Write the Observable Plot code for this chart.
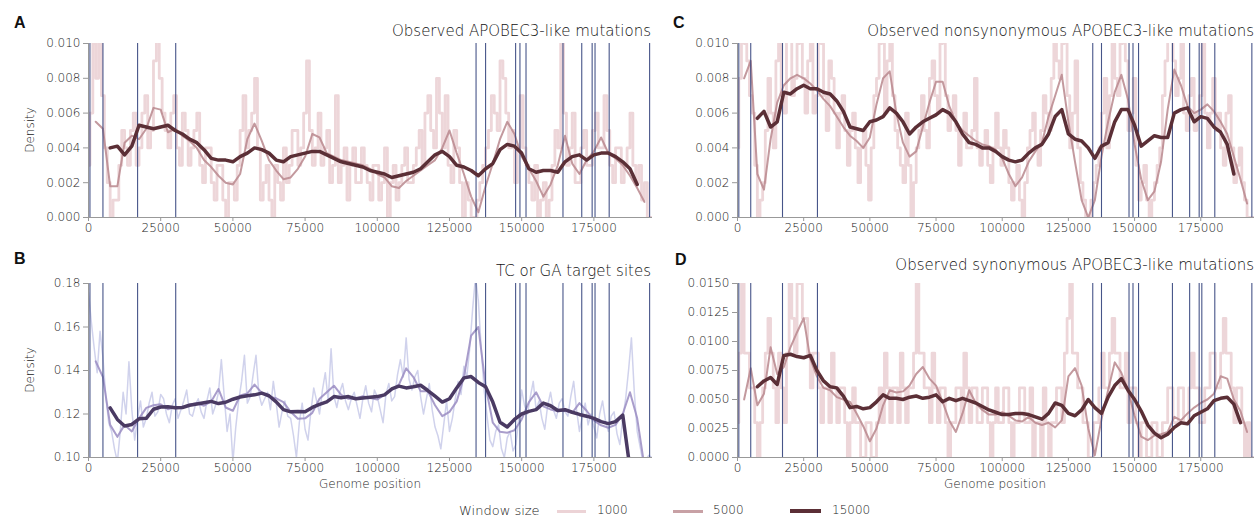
<!DOCTYPE html>
<html><head><meta charset="utf-8">
<script src="https://cdn.jsdelivr.net/npm/d3@7"></script>
<script src="https://cdn.jsdelivr.net/npm/@observablehq/plot@0.6"></script>
<style>
body{margin:0;background:#fff;}
#root{position:relative;width:1254px;height:516px;overflow:hidden;font-family:"DejaVu Sans",sans-serif;color:#222;background:#fff;}
.abs{position:absolute;white-space:nowrap;line-height:1;}
.letter{font-family:"Liberation Sans",Arial,sans-serif;font-weight:bold;font-size:16px;color:#111;}
.title{font-size:15px;font-weight:200;color:#111;}
.lab{font-size:12px;font-weight:200;color:#222;}
.sw{position:absolute;}
</style></head><body><div id="root"></div>
<script>
// ---------------- data ----------------
const GENOME_END = 195300;
const X_TICKS = [0, 25000, 50000, 75000, 100000, 125000, 150000, 175000];
const VLINES = [500, 5000, 17000, 30200, 134200, 137500, 147900, 149400, 151500, 164300, 170800, 174400, 175400, 180300, 194300];

// window 1000: positions 0, 1000, 2000, ...
const A_1000 = [
0.003,0.006,0.010,0.008,0.012,0.007,0.004,0.002,0.000,0.001,0.001,0.003,0.005,0.004,0.003,0.005,0.006,0.003,0.004,0.006,
0.007,0.004,0.005,0.009,0.011,0.008,0.006,0.005,0.004,0.006,0.007,0.004,0.003,0.006,0.005,0.003,0.004,0.005,0.006,0.003,
0.002,0.004,0.004,0.002,0.001,0.003,0.003,0.001,0.000,0.002,0.002,0.001,0.003,0.005,0.007,0.004,0.005,0.006,0.008,0.004,
0.001,0.002,0.003,0.001,0.000,0.003,0.002,0.001,0.004,0.002,0.003,0.005,0.005,0.003,0.004,0.006,0.009,0.005,0.003,0.004,
0.006,0.003,0.004,0.005,0.002,0.003,0.007,0.002,0.003,0.004,0.001,0.003,0.004,0.002,0.002,0.004,0.003,0.002,0.001,0.003,
0.003,0.001,0.002,0.004,0.000,0.002,0.003,0.001,0.002,0.003,0.004,0.002,0.002,0.003,0.004,0.005,0.003,0.006,0.007,0.005,
0.004,0.008,0.006,0.004,0.007,0.003,0.002,0.005,0.004,0.002,0.000,0.002,0.001,0.000,0.000,0.001,0.002,0.003,0.004,0.005,
0.007,0.006,0.005,0.009,0.008,0.006,0.004,0.005,0.002,0.004,0.007,0.004,0.003,0.002,0.001,0.003,0.000,0.001,0.002,0.000,
0.001,0.003,0.005,0.004,0.010,0.006,0.003,0.004,0.006,0.002,0.002,0.004,0.005,0.003,0.003,0.005,0.006,0.004,0.004,0.007,
0.005,0.003,0.002,0.004,0.004,0.002,0.003,0.004,0.006,0.003,0.002,0.003,0.001,0.002,0.000,0.000];
const B_1000 = [
0.176,0.162,0.150,0.139,0.158,0.146,0.128,0.116,0.112,0.104,0.098,0.112,0.130,0.120,0.144,0.122,0.108,0.118,0.126,0.114,
0.118,0.125,0.130,0.119,0.121,0.129,0.127,0.120,0.116,0.124,0.127,0.118,0.122,0.126,0.131,0.120,0.119,0.124,0.127,0.121,
0.118,0.126,0.132,0.120,0.124,0.130,0.145,0.128,0.112,0.120,0.098,0.114,0.126,0.135,0.147,0.125,0.128,0.138,0.147,0.129,
0.124,0.127,0.130,0.122,0.135,0.125,0.114,0.121,0.126,0.119,0.118,0.110,0.100,0.116,0.125,0.113,0.108,0.121,0.132,0.126,
0.120,0.131,0.139,0.126,0.150,0.128,0.123,0.130,0.134,0.126,0.122,0.127,0.130,0.124,0.118,0.127,0.133,0.125,0.121,0.131,
0.128,0.122,0.116,0.129,0.134,0.126,0.128,0.138,0.145,0.137,0.155,0.136,0.131,0.137,0.140,0.128,0.120,0.127,0.134,0.122,
0.114,0.110,0.104,0.115,0.126,0.112,0.118,0.127,0.135,0.129,0.142,0.137,0.150,0.168,0.183,0.172,0.150,0.131,0.119,0.108,
0.105,0.112,0.115,0.104,0.100,0.109,0.112,0.103,0.106,0.118,0.131,0.124,0.120,0.128,0.135,0.122,0.126,0.118,0.113,0.124,
0.130,0.122,0.118,0.125,0.127,0.121,0.119,0.128,0.135,0.122,0.112,0.119,0.125,0.115,0.120,0.114,0.109,0.120,0.126,0.117,
0.112,0.119,0.121,0.111,0.106,0.118,0.127,0.140,0.155,0.130,0.112,0.105,0.098,0.099,0.101,0.100];
const C_1000 = [
0.004,0.008,0.012,0.010,0.009,0.007,0.006,0.003,0.000,0.001,0.002,0.005,0.008,0.006,0.004,0.009,0.010,0.007,0.006,0.011,
0.012,0.007,0.008,0.010,0.011,0.008,0.006,0.009,0.012,0.006,0.007,0.011,0.010,0.007,0.005,0.009,0.008,0.006,0.004,0.006,
0.007,0.005,0.003,0.005,0.006,0.004,0.002,0.004,0.005,0.003,0.001,0.004,0.007,0.008,0.010,0.012,0.006,0.009,0.012,0.007,
0.005,0.004,0.003,0.002,0.006,0.003,0.000,0.002,0.004,0.005,0.007,0.005,0.004,0.008,0.009,0.007,0.006,0.010,0.011,0.007,
0.005,0.006,0.007,0.005,0.003,0.005,0.006,0.004,0.004,0.005,0.008,0.004,0.003,0.004,0.005,0.003,0.002,0.004,0.006,0.004,
0.003,0.005,0.004,0.002,0.001,0.002,0.003,0.001,0.000,0.002,0.004,0.005,0.006,0.004,0.003,0.005,0.007,0.006,0.005,0.008,
0.011,0.009,0.008,0.010,0.012,0.007,0.004,0.006,0.009,0.004,0.002,0.001,0.000,0.000,0.001,0.002,0.003,0.004,0.006,0.008,
0.004,0.007,0.010,0.008,0.007,0.010,0.012,0.009,0.005,0.006,0.008,0.003,0.001,0.002,0.003,0.001,0.000,0.001,0.002,0.003,
0.004,0.007,0.009,0.011,0.012,0.009,0.007,0.008,0.010,0.006,0.005,0.007,0.008,0.005,0.006,0.007,0.010,0.006,0.004,0.006,
0.008,0.005,0.006,0.004,0.003,0.006,0.007,0.004,0.002,0.003,0.004,0.002,0.001,0.000,0.000,0.000];
const D_1000 = [
0.003,0.009,0.015,0.009,0.009,0.006,0.006,0.003,0.000,0.003,0.006,0.009,0.012,0.009,0.006,0.003,0.009,0.006,0.003,0.009,
0.015,0.012,0.009,0.015,0.015,0.012,0.012,0.009,0.006,0.009,0.009,0.006,0.003,0.006,0.006,0.003,0.009,0.006,0.003,0.006,
0.006,0.003,0.000,0.003,0.006,0.003,0.003,0.000,0.000,0.003,0.003,0.000,0.000,0.003,0.006,0.003,0.009,0.006,0.003,0.006,
0.006,0.003,0.009,0.006,0.003,0.006,0.006,0.009,0.015,0.009,0.009,0.006,0.006,0.003,0.009,0.006,0.003,0.006,0.006,0.003,
0.000,0.003,0.003,0.006,0.006,0.003,0.009,0.006,0.003,0.006,0.006,0.003,0.003,0.006,0.006,0.003,0.000,0.003,0.006,0.003,
0.003,0.006,0.006,0.003,0.000,0.003,0.003,0.006,0.006,0.003,0.003,0.006,0.000,0.003,0.003,0.000,0.006,0.003,0.000,0.003,
0.003,0.006,0.006,0.003,0.009,0.012,0.015,0.009,0.009,0.006,0.006,0.003,0.003,0.000,0.000,0.003,0.003,0.006,0.009,0.006,
0.006,0.009,0.012,0.009,0.009,0.006,0.006,0.009,0.003,0.006,0.006,0.003,0.000,0.003,0.003,0.000,0.000,0.003,0.003,0.000,
0.000,0.003,0.003,0.006,0.006,0.003,0.003,0.006,0.006,0.003,0.003,0.006,0.009,0.006,0.006,0.003,0.003,0.006,0.006,0.009,
0.009,0.006,0.006,0.009,0.012,0.009,0.009,0.006,0.003,0.006,0.006,0.003,0.000,0.003,0.000,0.000];

// window 5000: positions 2500, 5000, 7500, ...
const A_5000 = [0.0055,0.0051,0.0018,0.0018,0.0043,0.0047,0.0045,0.0051,0.0063,0.0062,0.0049,0.0051,0.0047,0.0044,0.0040,0.0033,0.0029,0.0024,0.0020,0.0019,0.0025,0.0045,0.0054,0.0044,0.0033,0.0027,0.0022,0.0023,0.0028,0.0035,0.0048,0.0046,0.0037,0.0035,0.0033,0.0032,0.0031,0.0030,0.0028,0.0025,0.0023,0.0018,0.0017,0.0021,0.0024,0.0027,0.0030,0.0033,0.0040,0.0050,0.0037,0.0025,0.0012,0.0003,0.0018,0.0031,0.0045,0.0055,0.0048,0.0035,0.0028,0.0021,0.0012,0.0019,0.0030,0.0047,0.0031,0.0025,0.0033,0.0038,0.0046,0.0037,0.0034,0.0030,0.0024,0.0017,0.0009];
const B_5000 = [0.1442,0.1370,0.1150,0.1095,0.1150,0.1120,0.1180,0.1228,0.1240,0.1245,0.1222,0.1232,0.1230,0.1244,0.1250,0.1238,0.1258,0.1315,0.1230,0.1215,0.1285,0.1295,0.1335,0.1297,0.1280,0.1272,0.1255,0.1210,0.1178,0.1180,0.1205,0.1270,0.1300,0.1330,0.1288,0.1270,0.1270,0.1282,0.1274,0.1267,0.1288,0.1310,0.1335,0.1410,0.1370,0.1305,0.1305,0.1240,0.1190,0.1210,0.1258,0.1370,0.1560,0.1600,0.1330,0.1160,0.1118,0.1114,0.1125,0.1175,0.1255,0.1300,0.1235,0.1221,0.1213,0.1215,0.1205,0.1250,0.1215,0.1170,0.1148,0.1137,0.1150,0.1200,0.1300,0.1180,0.0960];
const C_5000 = [0.0080,0.0090,0.0025,0.0016,0.0045,0.0066,0.0076,0.0080,0.0082,0.0080,0.0077,0.0073,0.0068,0.0064,0.0058,0.0052,0.0047,0.0044,0.0040,0.0046,0.0065,0.0080,0.0084,0.0060,0.0043,0.0035,0.0038,0.0052,0.0066,0.0078,0.0078,0.0064,0.0055,0.0050,0.0047,0.0044,0.0042,0.0041,0.0039,0.0034,0.0025,0.0018,0.0023,0.0032,0.0038,0.0043,0.0058,0.0070,0.0082,0.0055,0.0032,0.0010,0.0000,0.0010,0.0035,0.0055,0.0072,0.0082,0.0068,0.0042,0.0022,0.0010,0.0015,0.0032,0.0062,0.0085,0.0076,0.0064,0.0060,0.0062,0.0065,0.0061,0.0055,0.0048,0.0035,0.0022,0.0008];
const D_5000 = [0.0050,0.0077,0.0045,0.0055,0.0095,0.0072,0.0078,0.0095,0.0108,0.0120,0.0085,0.0070,0.0060,0.0058,0.0052,0.0050,0.0048,0.0038,0.0027,0.0014,0.0025,0.0045,0.0058,0.0056,0.0057,0.0062,0.0072,0.0078,0.0068,0.0062,0.0048,0.0032,0.0022,0.0038,0.0058,0.0047,0.0041,0.0037,0.0037,0.0039,0.0036,0.0032,0.0031,0.0035,0.0030,0.0028,0.0030,0.0026,0.0032,0.0070,0.0077,0.0062,0.0025,0.0002,0.0033,0.0058,0.0082,0.0073,0.0058,0.0036,0.0018,0.0015,0.0019,0.0020,0.0022,0.0035,0.0032,0.0038,0.0043,0.0047,0.0050,0.0055,0.0070,0.0068,0.0050,0.0040,0.0022];

// window 15000: positions 7500, 10000, 12500, ...
const A_15000 = [0.0040,0.0041,0.0036,0.0041,0.0053,0.0052,0.0051,0.0052,0.0053,0.0050,0.0048,0.0045,0.0043,0.0039,0.0034,0.0033,0.0033,0.0032,0.0035,0.0037,0.0040,0.0039,0.0037,0.0033,0.0032,0.0035,0.0036,0.0037,0.0038,0.0038,0.0036,0.0034,0.0032,0.0031,0.0030,0.0029,0.0027,0.0026,0.0025,0.0023,0.0024,0.0025,0.0026,0.0028,0.0032,0.0036,0.0038,0.0035,0.0030,0.0029,0.0027,0.0024,0.0028,0.0031,0.0039,0.0042,0.0041,0.0037,0.0028,0.0026,0.0027,0.0027,0.0026,0.0032,0.0035,0.0036,0.0033,0.0036,0.0037,0.0037,0.0035,0.0032,0.0028,0.0019];
const B_15000 = [0.1228,0.1175,0.1145,0.1152,0.1178,0.1180,0.1222,0.1232,0.1233,0.1229,0.1230,0.1240,0.1246,0.1252,0.1258,0.1248,0.1254,0.1268,0.1278,0.1284,0.1288,0.1296,0.1284,0.1256,0.1220,0.1210,0.1212,0.1210,0.1230,0.1244,0.1256,0.1280,0.1275,0.1280,0.1270,0.1274,0.1277,0.1280,0.1288,0.1315,0.1328,0.1320,0.1325,0.1332,0.1308,0.1282,0.1255,0.1270,0.1320,0.1366,0.1372,0.1345,0.1325,0.1255,0.1162,0.1140,0.1175,0.1200,0.1212,0.1220,0.1250,0.1238,0.1216,0.1220,0.1208,0.1198,0.1190,0.1180,0.1165,0.1156,0.1165,0.1195,0.0950];
const C_15000 = [0.0057,0.0061,0.0052,0.0055,0.0072,0.0071,0.0074,0.0076,0.0074,0.0074,0.0072,0.0071,0.0067,0.0061,0.0052,0.0051,0.0050,0.0055,0.0056,0.0058,0.0063,0.0060,0.0055,0.0048,0.0052,0.0055,0.0057,0.0059,0.0062,0.0060,0.0055,0.0048,0.0043,0.0042,0.0040,0.0040,0.0038,0.0035,0.0033,0.0032,0.0033,0.0037,0.0040,0.0042,0.0048,0.0058,0.0062,0.0048,0.0045,0.0044,0.0040,0.0034,0.0041,0.0043,0.0055,0.0062,0.0062,0.0053,0.0041,0.0044,0.0047,0.0046,0.0046,0.0060,0.0062,0.0063,0.0055,0.0058,0.0057,0.0052,0.0049,0.0042,0.0025];
const D_15000 = [0.0061,0.0066,0.0069,0.0063,0.0088,0.0089,0.0087,0.0086,0.0088,0.0075,0.0066,0.0061,0.0060,0.0053,0.0043,0.0044,0.0042,0.0043,0.0048,0.0054,0.0051,0.0051,0.0050,0.0052,0.0053,0.0051,0.0052,0.0054,0.0048,0.0051,0.0049,0.0051,0.0049,0.0047,0.0044,0.0041,0.0039,0.0037,0.0037,0.0038,0.0038,0.0037,0.0035,0.0033,0.0038,0.0047,0.0045,0.0038,0.0036,0.0041,0.0050,0.0043,0.0038,0.0052,0.0062,0.0068,0.0058,0.0050,0.0040,0.0028,0.0021,0.0017,0.0020,0.0026,0.0030,0.0029,0.0036,0.0039,0.0042,0.0049,0.0051,0.0052,0.0046,0.0030];

const PINK = {w1000: "#dfb5ba", w5000: "#b8878d", w15000: "#5b2f36"};
const PURPLE = {w1000: "#b7bae2", w5000: "#9a8cc2", w15000: "#4a3a63"};

// ---------------- drawing ----------------
const root = document.getElementById("root");
const pts = (vals, start, step) => vals.map((v, i) => ({pos: start + i * step, val: v}));

function panel({left, top, width, marginLeft, marginRight, yDomain, yTicks, yFormat, s1000, s5000, s15000, pal, curve1000, op1000, sw1000}) {
  const chart = Plot.plot({
    width, height: 203,
    marginTop: 7, marginBottom: 22, marginLeft, marginRight,
    style: {fontFamily: "DejaVu Sans, sans-serif", fontSize: "12px", fontWeight: 200, color: "#222", background: "transparent", overflow: "visible"},
    x: {domain: [0, GENOME_END], label: null},
    y: {domain: yDomain, label: null},
    marks: [
      Plot.lineY(pts(s1000, 0, 1000), {x: "pos", y: "val", curve: curve1000, stroke: pal.w1000, strokeWidth: sw1000, strokeOpacity: op1000, clip: true}),
      Plot.lineY(pts(s5000, 2500, 2500), {x: "pos", y: "val", stroke: pal.w5000, strokeWidth: 2, strokeOpacity: 0.85, clip: true}),
      Plot.ruleX(VLINES, {stroke: "#33437c", strokeWidth: 1.1, strokeOpacity: 0.9}),
      Plot.lineY(pts(s15000, 7500, 2500), {x: "pos", y: "val", stroke: pal.w15000, strokeWidth: 3.5, clip: true}),
      Plot.ruleY([yDomain[0]], {stroke: "#999"}),
      Plot.ruleX([0], {stroke: "#999"}),
      Plot.axisX({ticks: X_TICKS, tickFormat: d => String(d), tickSize: 4, tickPadding: 2, stroke: "#999", fill: "#222", label: null}),
      Plot.axisY({ticks: yTicks, tickFormat: yFormat, tickSize: 5, tickPadding: 3, stroke: "#999", fill: "#222", label: null})
    ]
  });
  chart.style.position = "absolute";
  chart.style.left = left + "px";
  chart.style.top = top + "px";
  root.appendChild(chart);
}

function addText(txt, cls, css) {
  const d = document.createElement("div");
  d.className = "abs " + cls;
  d.textContent = txt;
  Object.assign(d.style, css);
  root.appendChild(d);
  return d;
}

panel({left: 0, top: 36, width: 660, marginLeft: 88, marginRight: 8, yDomain: [0, 0.010], yTicks: [0, 0.002, 0.004, 0.006, 0.008, 0.010], yFormat: d3.format(".3f"), s1000: A_1000, s5000: A_5000, s15000: A_15000, pal: PINK, curve1000: "step", op1000: 0.55, sw1000: 2.8});
panel({left: 0, top: 276, width: 660, marginLeft: 88, marginRight: 8, yDomain: [0.10, 0.18], yTicks: [0.10, 0.12, 0.14, 0.16, 0.18], yFormat: d3.format(".2f"), s1000: B_1000, s5000: B_5000, s15000: B_15000, pal: PURPLE, curve1000: "linear", op1000: 0.65, sw1000: 1.5});
panel({left: 660, top: 36, width: 594, marginLeft: 77, marginRight: 0, yDomain: [0, 0.010], yTicks: [0, 0.002, 0.004, 0.006, 0.008, 0.010], yFormat: d3.format(".3f"), s1000: C_1000, s5000: C_5000, s15000: C_15000, pal: PINK, curve1000: "step", op1000: 0.55, sw1000: 2.8});
panel({left: 660, top: 276, width: 594, marginLeft: 77, marginRight: 0, yDomain: [0, 0.015], yTicks: [0, 0.0025, 0.005, 0.0075, 0.010, 0.0125, 0.015], yFormat: d3.format(".4f"), s1000: D_1000, s5000: D_5000, s15000: D_15000, pal: PINK, curve1000: "step", op1000: 0.55, sw1000: 2.8});

// letters and titles
addText("A", "letter", {left: "14px", top: "15px"});
addText("B", "letter", {left: "14px", top: "251px"});
addText("C", "letter", {left: "673px", top: "15px"});
addText("D", "letter", {left: "675px", top: "252px"});
addText("Observed APOBEC3-like mutations", "title", {right: (1254 - 651) + "px", top: "24px"});
addText("TC or GA target sites", "title", {right: (1254 - 651) + "px", top: "264px"});
addText("Observed nonsynonymous APOBEC3-like mutations", "title", {right: "0px", top: "24px"});
addText("Observed synonymous APOBEC3-like mutations", "title", {right: "0px", top: "258px"});

// axis labels
for (const cy of [130, 370]) {
  addText("Density", "lab", {left: "30px", top: cy + "px", transform: "translate(-50%,-50%) rotate(-90deg)"});
}
addText("Genome position", "lab", {left: "370px", top: "484px", transform: "translate(-50%,-50%)"});
addText("Genome position", "lab", {left: "995px", top: "484px", transform: "translate(-50%,-50%)"});

// legend
addText("Window size", "lab", {left: "459px", top: "510px", fontSize: "13px", transform: "translateY(-50%)"});
const legendItems = [
  {label: "1000", x0: 557, x1: 586, color: "#ecd3d6", h: 3, tx: 597},
  {label: "5000", x0: 673, x1: 703, color: "#c8a1a5", h: 3, tx: 713},
  {label: "15000", x0: 790, x1: 821, color: "#5b2f36", h: 4.5, tx: 832}
];
for (const it of legendItems) {
  const s = document.createElement("div");
  s.className = "sw";
  Object.assign(s.style, {left: it.x0 + "px", top: (511 - it.h / 2) + "px", width: (it.x1 - it.x0) + "px", height: it.h + "px", background: it.color});
  root.appendChild(s);
  addText(it.label, "lab", {left: it.tx + "px", top: "510px", transform: "translateY(-50%)"});
}
</script></body></html>
